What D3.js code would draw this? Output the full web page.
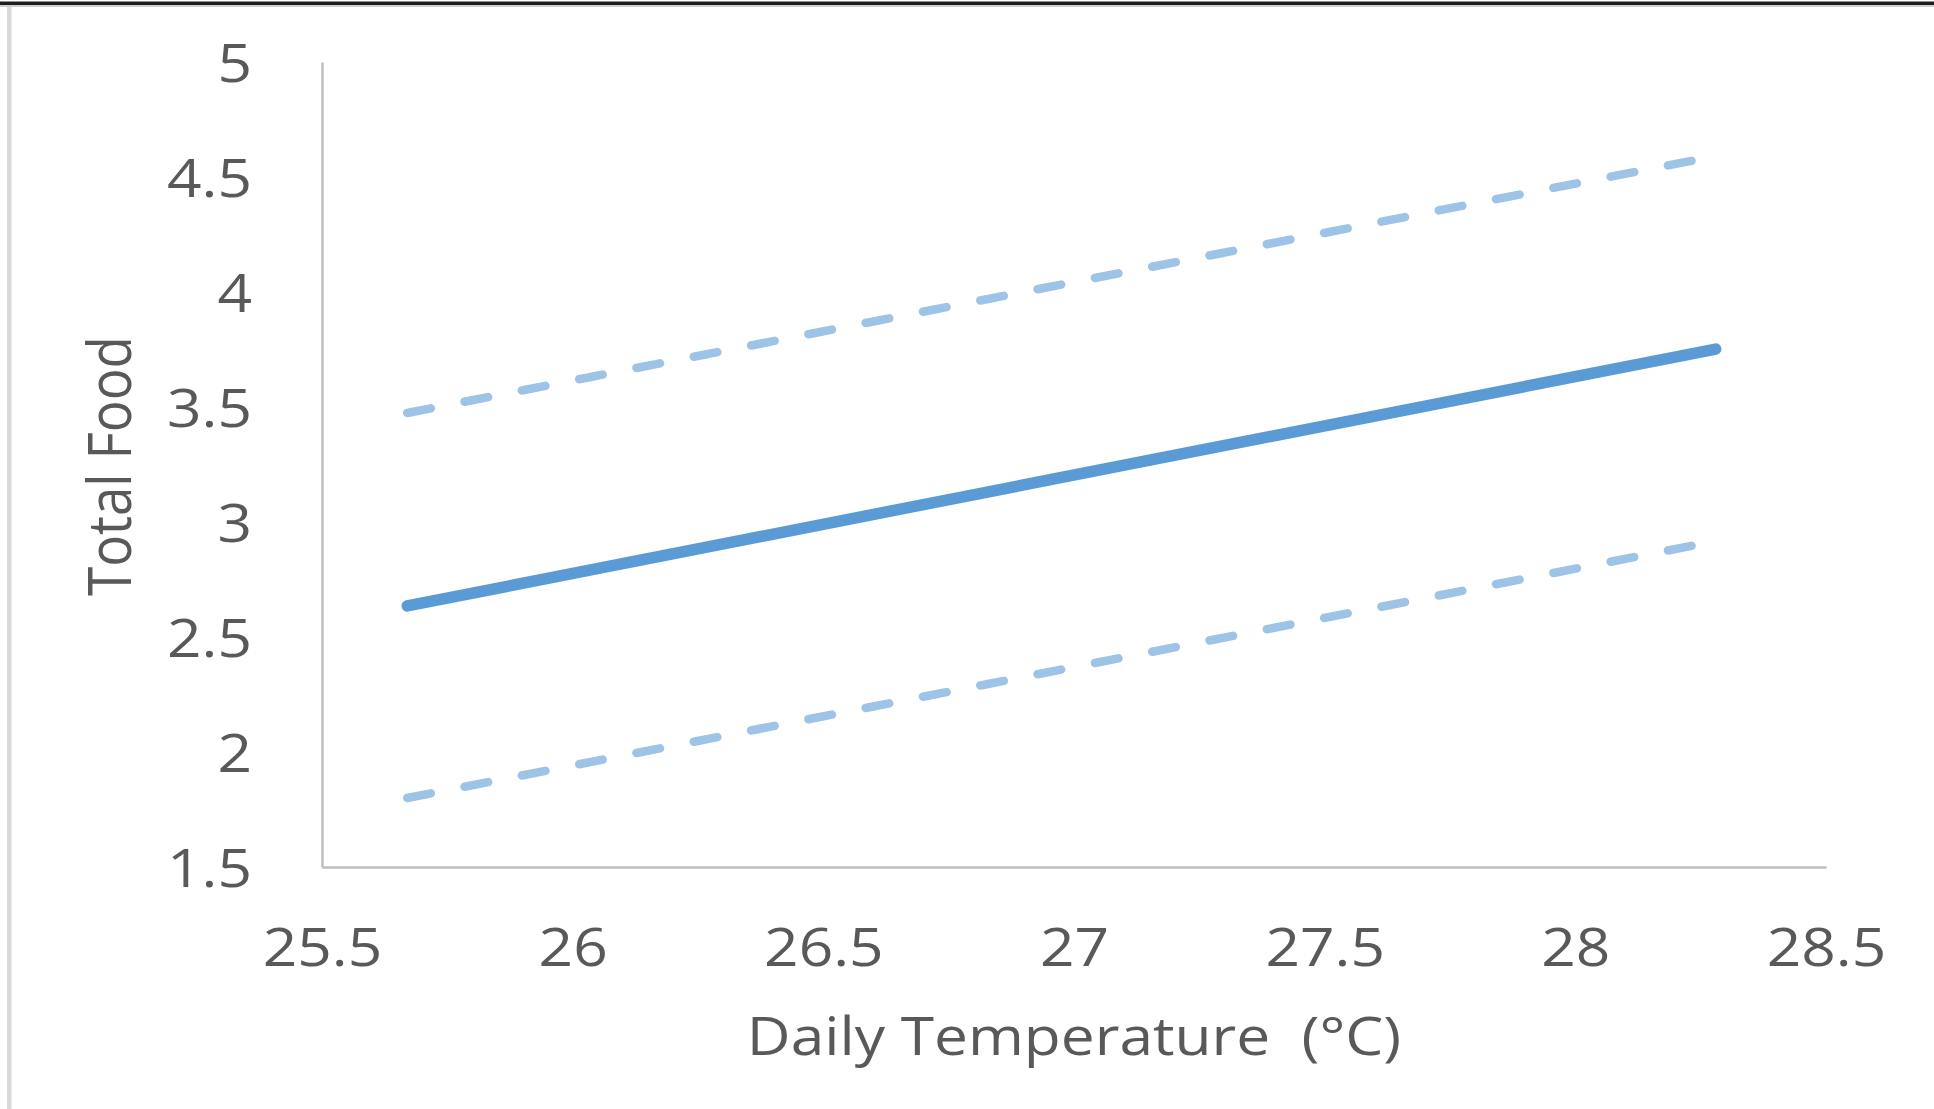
<!DOCTYPE html>
<html>
<head>
<meta charset="utf-8">
<script src="https://cdn.jsdelivr.net/npm/d3@7"></script>
<style>
  html, body { margin: 0; padding: 0; background: #ffffff; }
  svg { display: block; }
  text { font-family: "Open Sans", "Noto Sans", sans-serif; fill: #595959; }
</style>
</head>
<body>
<script>
// Regression of total food on daily temperature, with its confidence band
const temperature = [25.67, 28.28];
const fitted      = [2.635, 3.752];
const upperBound  = [3.474, 4.591];
const lowerBound  = [1.800, 2.917];

const xTickValues = [25.5, 26, 26.5, 27, 27.5, 28, 28.5];
const yTickValues = [1.5, 2, 2.5, 3, 3.5, 4, 4.5, 5];

const W = 1934, H = 1109;
const plotLeft = 322, plotRight = 1826, plotTop = 62, plotBottom = 867;
const stretch = 1.14; // horizontal stretch applied to all lettering

const svg = d3.select("body").append("svg")
  .attr("width", W).attr("height", H);

// frame edges
svg.append("rect").attr("x", 0).attr("y", 1.5).attr("width", W).attr("height", 3.5).attr("fill", "#1f1f1f");
svg.append("rect").attr("x", 0).attr("y", 5).attr("width", W).attr("height", 2).attr("fill", "#cfcfcf");
svg.append("rect").attr("x", 7).attr("y", 7).attr("width", 4.5).attr("height", H - 7).attr("fill", "#d9d9d9");

const x = d3.scaleLinear().domain([25.5, 28.5]).range([plotLeft, plotRight]);
const y = d3.scaleLinear().domain([1.5, 5]).range([plotBottom, plotTop]);

// axes without tick marks
const xAxis = svg.append("g")
  .attr("transform", `translate(0,${plotBottom})`)
  .call(d3.axisBottom(x).tickValues(xTickValues).tickSize(0).tickFormat(d3.format("")));
const yAxis = svg.append("g")
  .attr("transform", `translate(${plotLeft},0)`)
  .call(d3.axisLeft(y).tickValues(yTickValues).tickSize(0).tickFormat(d3.format("")));

[xAxis, yAxis].forEach(g => {
  g.select(".domain").attr("stroke", "#bfbfbf").attr("stroke-width", 2.5);
  g.selectAll("text")
    .attr("fill", "#595959")
    .style("font-family", '"Open Sans", "Noto Sans", sans-serif')
    .attr("font-size", 53)
    .attr("x", null).attr("y", null).attr("dy", null);
});

xAxis.selectAll("text")
  .attr("text-anchor", "middle")
  .attr("transform", `translate(0,99) scale(${stretch},1)`);

yAxis.selectAll("text")
  .attr("text-anchor", "end")
  .attr("transform", `translate(-70,19) scale(${stretch},1)`);

// axis titles
svg.append("text")
  .attr("text-anchor", "middle")
  .attr("font-size", 53)
  .style("white-space", "pre")
  .attr("transform", `translate(${(plotLeft + plotRight) / 2},1055) scale(${stretch},1)`)
  .text("Daily Temperature  (°C)");

svg.append("text")
  .attr("text-anchor", "middle")
  .attr("font-size", 53)
  .attr("transform", `translate(131,466) scale(${stretch},1) rotate(-90)`)
  .text("Total Food");

// lines
const pts = ys => temperature.map((t, i) => [x(t), y(ys[i])]);
const line = d3.line();

[upperBound, lowerBound].forEach(b => {
  svg.append("path")
    .attr("d", line(pts(b)))
    .attr("fill", "none")
    .attr("stroke", "#9dc3e6")
    .attr("stroke-width", 8.5)
    .attr("stroke-linecap", "round")
    .attr("stroke-dasharray", "24 34.4");
});

svg.append("path")
  .attr("d", line(pts(fitted)))
  .attr("fill", "none")
  .attr("stroke", "#5b9bd5")
  .attr("stroke-width", 11.5)
  .attr("stroke-linecap", "round");
</script>
</body>
</html>
